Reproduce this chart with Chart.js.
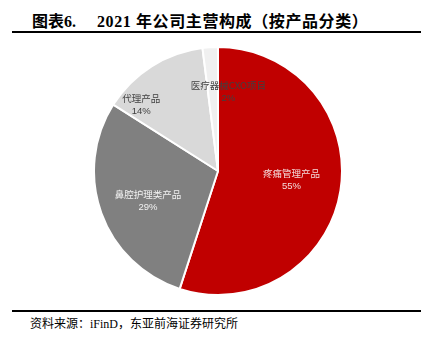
<!DOCTYPE html>
<html>
<head>
<meta charset="utf-8">
<script src="https://cdn.jsdelivr.net/npm/chart.js@4.4.1/dist/chart.umd.min.js"></script>
<style>
  html, body { margin: 0; padding: 0; background: #fff; }
  body { width: 433px; height: 353px; position: relative; overflow: hidden; }
  .title {
    position: absolute; top: 8px;
    font-family: "Liberation Serif", "Noto Sans CJK SC", serif;
    font-weight: bold; font-size: 16px; color: #000; white-space: pre;
  }
  .rule { position: absolute; left: 12px; width: 409px; background: #000; }
  .source {
    position: absolute; left: 30px; top: 314px;
    font-family: "Liberation Serif", "Noto Sans CJK SC", serif;
    font-size: 12px; color: #000; white-space: pre;
  }
  #wrap { position: absolute; left: 93px; top: 46px; width: 250px; height: 250px; }
</style>
</head>
<body>
<div class="title" style="left:32px;">图表6.</div>
<div class="title" style="left:97px;letter-spacing:0.6px;">2021 年公司主营构成（按产品分类）</div>
<div class="rule" style="top:31px;height:2px;"></div>
<div id="wrap"><canvas id="pie"></canvas></div>
<div class="rule" style="top:310px;height:2px;"></div>
<div class="source">资料来源：iFinD，东亚前海证券研究所</div>

<script>
// 数据
const categories = ['疼痛管理产品', '鼻腔护理类产品', '代理产品', '医疗器械CXO项目'];
const shares = [55, 29, 14, 2];
const sliceColors = ['#C00000', '#808080', '#D9D9D9', '#F0F0F0'];
const labelColors = ['#F4DADA', '#F2F2F2', '#404040', '#404040'];
// label nudges (px) from the default mid-angle spot, like Excel's best fit
const labelNudge = [[0, -3], [0, 4], [-37, -4], [15, -5]];

const sliceLabels = {
  id: 'sliceLabels',
  afterDatasetsDraw(chart) {
    const ctx = chart.ctx;
    const meta = chart.getDatasetMeta(0);
    meta.data.forEach((arc, i) => {
      const p = arc.getProps(['x', 'y', 'startAngle', 'endAngle', 'outerRadius'], true);
      const mid = (p.startAngle + p.endAngle) / 2;
      const r = p.outerRadius * 0.6;
      const x = p.x + Math.cos(mid) * r + labelNudge[i][0];
      const y = p.y + Math.sin(mid) * r + labelNudge[i][1];
      ctx.save();
      ctx.fillStyle = labelColors[i];
      ctx.textAlign = 'center';
      ctx.textBaseline = 'middle';
      ctx.font = '9.5px "Noto Sans CJK SC"';
      ctx.fillText(categories[i], x, y - 6);
      ctx.font = '9.5px "Liberation Sans", Arial';
      ctx.fillText(shares[i] + '%', x, y + 7);
      ctx.restore();
    });
  }
};

const ctx = document.getElementById('pie').getContext('2d');
new Chart(ctx, {
  type: 'pie',
  data: {
    labels: categories,
    datasets: [{
      data: shares,
      backgroundColor: sliceColors,
      borderColor: '#FFFFFF',
      borderWidth: 2
    }]
  },
  options: {
    responsive: true,
    maintainAspectRatio: false,
    animation: false,
    layout: { padding: 0 },
    plugins: {
      legend: { display: false },
      tooltip: { enabled: false }
    }
  },
  plugins: [sliceLabels]
});
</script>
</body>
</html>
